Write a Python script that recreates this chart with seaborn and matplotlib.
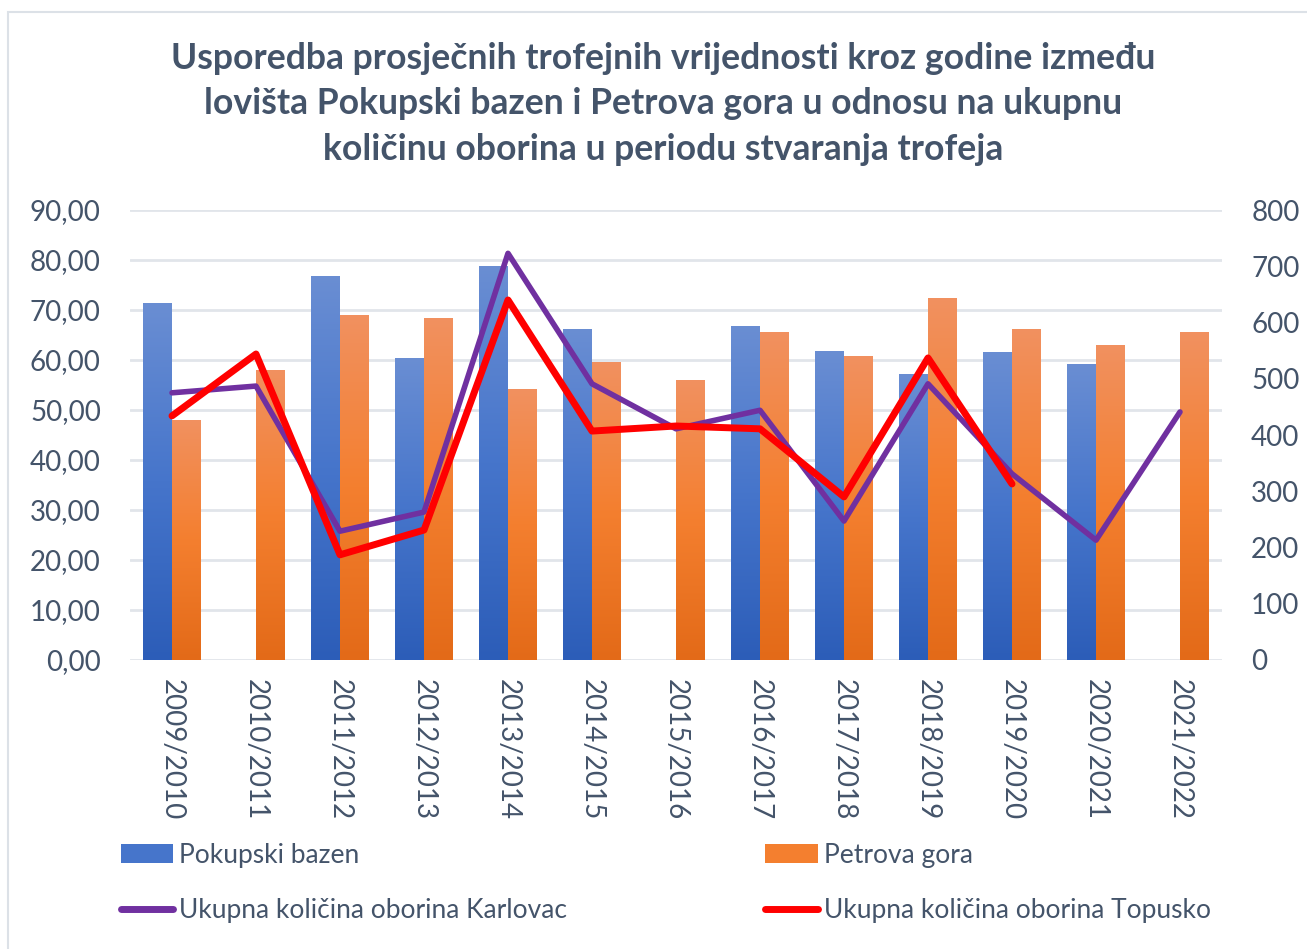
import numpy as np
import pandas as pd
import matplotlib
matplotlib.use("Agg")
import matplotlib.pyplot as plt
from matplotlib.colors import LinearSegmentedColormap
from matplotlib.patches import Patch, Rectangle
from matplotlib.lines import Line2D
import seaborn as sns

# ---- data ----
seasons = ["2009/2010", "2010/2011", "2011/2012", "2012/2013", "2013/2014",
           "2014/2015", "2015/2016", "2016/2017", "2017/2018", "2018/2019",
           "2019/2020", "2020/2021", "2021/2022"]
pokupski = [71.4, np.nan, 76.8, 60.4, 78.8, 66.2, np.nan, 66.8, 61.8, 57.2,
            61.6, 59.2, np.nan]
petrova = [48.0, 58.0, 69.0, 68.4, 54.2, 59.6, 56.0, 65.6, 60.8, 72.4,
           66.2, 63.0, 65.6]
karlovac = [475, 487, 229, 263, 723, 491, 411, 444, 247, 491, 331, 213, 441]
topusko = [434, 544, 187, 231, 640, 407, 416, 411, 290, 537, 313, np.nan, np.nan]

left_ticks = [0, 10, 20, 30, 40, 50, 60, 70, 80, 90]
left_labels = ["0,00", "10,00", "20,00", "30,00", "40,00", "50,00",
               "60,00", "70,00", "80,00", "90,00"]
right_ticks = [0, 100, 200, 300, 400, 500, 600, 700, 800]

series_names = ["Pokupski bazen", "Petrova gora"]
line_names = ["Ukupna količina oborina Karlovac", "Ukupna količina oborina Topusko"]
title = ("Usporedba prosječnih trofejnih vrijednosti kroz godine između\n"
         "lovišta Pokupski bazen i Petrova gora u odnosu na ukupnu\n"
         "količinu oborina u periodu stvaranja trofeja")

# ---- styling ----
text_col = "#44546A"
grid_col = "#E1E5EA"
blue_grad = ["#6A8ED3", "#4675CB", "#2C5DB8"]
orange_grad = ["#F19160", "#F47F2F", "#E36A18"]
purple = "#7030A0"
red = "#FF0000"

sns.set_theme(style="white")
plt.rcParams["font.family"] = ["Lato", "DejaVu Sans"]

bars = pd.DataFrame({
    "season": seasons * 2,
    "value": pokupski + petrova,
    "series": [series_names[0]] * len(seasons) + [series_names[1]] * len(seasons),
})

fig = plt.figure(figsize=(13.07, 9.49), dpi=100)
ax = fig.add_axes([130 / 1307, 1 - 660 / 949, 1092 / 1307, 450 / 949])

sns.barplot(data=bars, x="season", y="value", hue="series", order=seasons,
            hue_order=series_names, palette=[blue_grad[1], orange_grad[1]],
            width=0.69, gap=0, ax=ax, legend=False, errorbar=None,
            linewidth=0, saturation=1)

ax.set_xlim(-0.5, len(seasons) - 0.5)
ax.set_ylim(0, 90)

# vertical gradient fill for each bar
cmaps = [LinearSegmentedColormap.from_list("b", blue_grad[::-1]),
         LinearSegmentedColormap.from_list("o", orange_grad[::-1])]
grad = np.linspace(0, 1, 256).reshape(-1, 1)
n = len(seasons)
for p in list(ax.patches):
    h = p.get_height()
    if not np.isfinite(h) or h <= 0:
        continue
    fc = p.get_facecolor()
    cmap = cmaps[0] if fc[2] > fc[0] else cmaps[1]
    x0 = p.get_x()
    w = p.get_width()
    im = ax.imshow(grad, cmap=cmap, origin="lower", aspect="auto",
                   extent=[x0, x0 + w, 0, h], zorder=2, interpolation="bicubic")
    im.set_clip_path(p)
    p.set_facecolor("none")

ax.set_xlim(-0.5, len(seasons) - 0.5)
ax.set_ylim(0, 90)
ax.set_yticks(left_ticks)
ax.set_yticklabels(left_labels)
ax.yaxis.grid(True, color=grid_col, linewidth=2)
ax.set_axisbelow(True)
for s in ax.spines.values():
    s.set_visible(False)
ax.tick_params(axis="both", length=0, labelsize=20, colors=text_col)
ax.tick_params(axis="y", pad=21)
ax.tick_params(axis="x", pad=14)
ax.set_xticks(range(n))
ax.set_xticklabels(seasons, rotation=-90, va="top", ha="center")
ax.set_xlabel("")
ax.set_ylabel("")

# precipitation lines on the secondary axis
ax2 = ax.twinx()
pos = np.arange(n)
sns.lineplot(x=pos, y=karlovac, ax=ax2, color=purple, linewidth=4.0,
             solid_capstyle="round", solid_joinstyle="round", zorder=3)
sns.lineplot(x=pos, y=topusko, ax=ax2, color=red, linewidth=5.0,
             solid_capstyle="round", solid_joinstyle="round", zorder=4)
ax2.set_ylim(0, 800)
ax2.set_xlim(-0.5, n - 0.5)
ax2.set_yticks(right_ticks)
ax2.set_yticklabels([str(t) for t in right_ticks])
ax2.tick_params(axis="y", length=0, labelsize=20, colors=text_col, pad=21)
for s in ax2.spines.values():
    s.set_visible(False)
ax2.set_ylabel("")
ax2.grid(False)

# title
fig.text(663 / 1307, 1 - 104 / 949, title, ha="center", va="center",
         fontsize=25.6, fontweight="bold", color=text_col, linespacing=1.45)

# chart frame
fig.patches.append(Rectangle((8 / 1307, -0.1), 1.2, 1 - 12 / 949 + 0.1,
                             transform=fig.transFigure, fill=False,
                             edgecolor="#DCE1E7", linewidth=1.5))

# legend
handles = [Patch(facecolor=blue_grad[1], edgecolor="none"),
           Line2D([0], [0], color=purple, linewidth=5, solid_capstyle="round"),
           Patch(facecolor=orange_grad[1], edgecolor="none"),
           Line2D([0], [0], color=red, linewidth=5, solid_capstyle="round")]
labels = [series_names[0], line_names[0], series_names[1], line_names[1]]
fig.legend(handles, labels, ncol=2, loc="upper left",
           bbox_to_anchor=(110 / 1307, 1 - 832 / 949), frameon=False,
           fontsize=19, labelcolor=text_col, handlelength=2.0,
           handletextpad=0.22, columnspacing=7.5, labelspacing=1.15,
           borderaxespad=0)

fig.savefig("out.png", dpi=100)
